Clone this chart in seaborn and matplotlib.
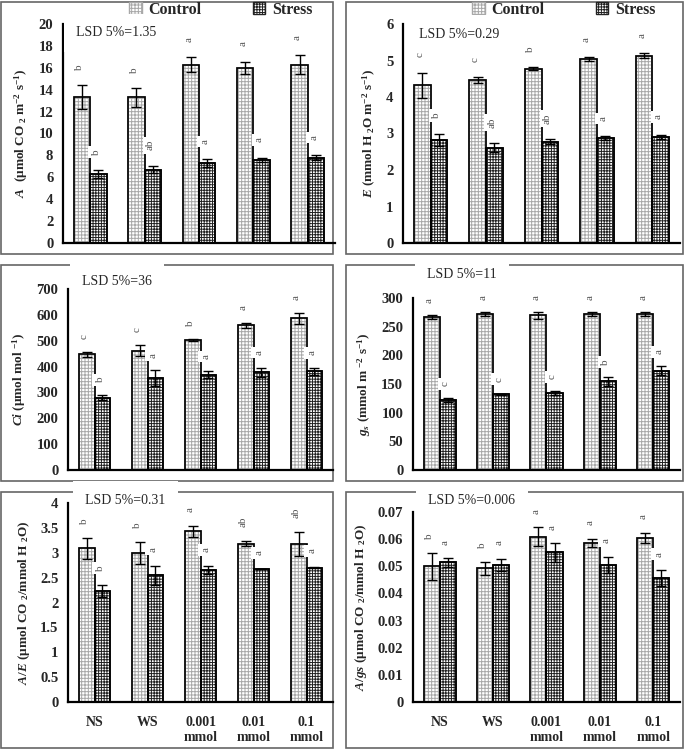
import matplotlib
matplotlib.use('Agg')
import numpy as np
import pandas as pd
import matplotlib.pyplot as plt
from matplotlib.patches import Patch, Rectangle
import seaborn as sns

# categories
treatments = ['NS', 'WS', '0.001\nmmol', '0.01\nmmol', '0.1\nmmol']
groups = ['Control', 'Stress']

# A (net photosynthesis)
a_ctrl = [13.3, 13.3, 16.3, 16.0, 16.3]
a_ctrl_err = [1.1, 0.85, 0.65, 0.55, 0.85]
a_str = [6.3, 6.7, 7.3, 7.6, 7.8]
a_str_err = [0.35, 0.35, 0.35, 0.2, 0.2]
a_ctrl_let = ['b', 'b', 'a', 'a', 'a']
a_str_let = ['b', 'ab', 'a', 'a', 'a']

# E (transpiration)
e_ctrl = [4.32, 4.46, 4.78, 5.04, 5.13]
e_ctrl_err = [0.35, 0.08, 0.03, 0.06, 0.07]
e_str = [2.83, 2.61, 2.77, 2.87, 2.91]
e_str_err = [0.17, 0.12, 0.07, 0.06, 0.06]
e_ctrl_let = ['c', 'c', 'b', 'a', 'a']
e_str_let = ['b', 'ab', 'ab', 'a', 'a']

# Ci
ci_ctrl = [447, 462, 503, 560, 587]
ci_ctrl_err = [10, 22, 3, 10, 22]
ci_str = [280, 355, 368, 378, 382]
ci_str_err = [10, 30, 13, 18, 13]
ci_ctrl_let = ['c', 'c', 'b', 'a', 'a']
ci_str_let = ['b', 'a', 'a', 'a', 'a']

# gs
gs_ctrl = [267, 272, 270, 272, 272]
gs_ctrl_err = [3, 4, 6, 3, 4]
gs_str = [122, 132, 134, 155, 173]
gs_str_err = [3, 1, 3, 8, 8]
gs_ctrl_let = ['a', 'a', 'a', 'a', 'a']
gs_str_let = ['c', 'c', 'c', 'b', 'a']

# A/E
ae_ctrl = [3.09, 2.99, 3.43, 3.18, 3.18]
ae_ctrl_err = [0.21, 0.22, 0.11, 0.05, 0.24]
ae_str = [2.24, 2.55, 2.65, 2.67, 2.70]
ae_str_err = [0.12, 0.19, 0.08, 0.0, 0.01]
ae_ctrl_let = ['b', 'b', 'a', 'ab', 'ab']
ae_str_let = ['b', 'a', 'a', 'a', 'a']

# A/gs
ag_ctrl = [0.0500, 0.0492, 0.0608, 0.0587, 0.0604]
ag_ctrl_err = [0.005, 0.0025, 0.0035, 0.0015, 0.002]
ag_str = [0.0514, 0.0505, 0.0551, 0.0505, 0.0457]
ag_str_err = [0.0015, 0.0023, 0.0035, 0.003, 0.003]
ag_ctrl_let = ['b', 'b', 'a', 'a', 'a']
ag_str_let = ['a', 'a', 'a', 'a', 'a']

sns.set_style('white')
plt.rcParams['font.family'] = ['Liberation Serif', 'DejaVu Serif']
plt.rcParams['font.weight'] = 'bold'
plt.rcParams['mathtext.fontset'] = 'custom'
plt.rcParams['mathtext.rm'] = 'Liberation Serif:bold'
plt.rcParams['mathtext.it'] = 'Liberation Serif:italic:bold'
plt.rcParams['mathtext.bf'] = 'Liberation Serif:bold'
plt.rcParams['hatch.linewidth'] = 0.7

W, H = 685, 749
fig = plt.figure(figsize=(W / 100, H / 100), dpi=100)

CTRL_HATCH, STR_HATCH = '+++++', '++++++'
CTRL_HC, STR_HC = '#a8a8a8', '#222222'
HAS_HC = hasattr(Patch(), 'set_hatchcolor')


def set_hatch(p, hatch, hc):
    p.set_facecolor('white')
    p.set_edgecolor('black')
    p.set_hatch(hatch)
    if HAS_HC:
        p.set_hatchcolor(hc)
    else:
        p.set_edgecolor(hc)


def px_axes(x0, y0, x1, y1):
    return fig.add_axes([x0 / W, 1 - y1 / H, (x1 - x0) / W, (y1 - y0) / H])


def draw_panel(ax, ctrl, ctrl_err, strs, strs_err, ctrl_let, strs_let,
               ymax, ystep, ylabel, lsd, lsd_xy, bottom_row):
    df = pd.DataFrame({'treatment': treatments * 2,
                       'group': ['Control'] * 5 + ['Stress'] * 5,
                       'value': ctrl + strs})
    sns.barplot(data=df, x='treatment', y='value', hue='group', order=treatments,
                hue_order=groups, width=0.6, errorbar=None, ax=ax, legend=False,
                edgecolor='black', linewidth=1.2, gap=0)
    styles = [(CTRL_HATCH, CTRL_HC), (STR_HATCH, STR_HC)]
    for cont, errs, lets, (hatch, hc) in zip(list(ax.containers), [ctrl_err, strs_err],
                                             [ctrl_let, strs_let], styles):
        xs = [p.get_x() + p.get_width() / 2 for p in cont]
        ys = [p.get_height() for p in cont]
        for p in cont:
            set_hatch(p, hatch, hc)
            if not HAS_HC:
                # black outline on top of the bar (hatch colour follows edge colour)
                ax.add_patch(Rectangle(p.get_xy(), p.get_width(), p.get_height(),
                                       fill=False, ec='black', lw=1.2, zorder=3))
        ax.errorbar(xs, ys, yerr=errs, fmt='none', ecolor='black',
                    elinewidth=1, capsize=3.5, capthick=1, zorder=5)
        for x, y, e, l in zip(xs, ys, errs, lets):
            ax.text(x - 0.04, y + e + 0.07 * ymax, l, rotation=90, ha='center',
                    va='bottom', fontsize=8, fontweight='normal', color='#555555',
                    bbox=dict(boxstyle='square,pad=0.3', fc='white', ec='none'),
                    zorder=6, clip_on=False)
    ax.set_xlim(-0.5, 4.5)
    ax.set_ylim(0, ymax)
    ticks = np.round(np.arange(0, ymax + ystep / 2, ystep), 4)
    ax.set_yticks(ticks)
    ax.set_yticklabels(['{:g}'.format(t) for t in ticks], fontsize=10.5, fontweight='bold')
    ax.set_xticks(range(5))
    if bottom_row:
        ax.set_xticklabels(treatments, fontsize=10, fontweight='bold')
    else:
        ax.set_xticklabels([])
    ax.set_xticks(np.arange(-0.5, 5, 1), minor=True)
    ax.tick_params(axis='x', which='major', length=0, pad=10)
    ax.tick_params(axis='x', which='minor', length=4, width=1.3, direction='out')
    ax.tick_params(axis='y', length=4, width=1.3, direction='out', pad=3)
    ax.set_xlabel('')
    ax.set_ylabel(ylabel, fontsize=9.5, fontweight='bold', labelpad=6)
    for s in ['top', 'right']:
        ax.spines[s].set_visible(False)
    for s in ['left', 'bottom']:
        ax.spines[s].set_linewidth(1.6)
        ax.spines[s].set_color('black')
    ax.patch.set_visible(False)
    ax.grid(False)
    # LSD label, given in figure pixels
    fig.text(lsd_xy[0] / W, 1 - lsd_xy[1] / H, lsd, fontsize=10, fontweight='normal',
             ha='left', va='center',
             bbox=dict(boxstyle='square,pad=0.9', fc='white', ec='none'))


# panel frames
for (x0, y0, x1, y1) in [(1, 2, 333, 254), (346, 2, 683, 254),
                         (1, 265, 333, 481), (346, 265, 683, 481),
                         (1, 492, 333, 748), (346, 492, 683, 748)]:
    fig.add_artist(Rectangle((x0 / W, 1 - y1 / H), (x1 - x0) / W, (y1 - y0) / H,
                             transform=fig.transFigure, fill=False, ec='#666666',
                             lw=1.2, zorder=-1))

ax1 = px_axes(63, 24, 335, 243)
draw_panel(ax1, a_ctrl, a_ctrl_err, a_str, a_str_err, a_ctrl_let, a_str_let,
           20, 2, r'$\mathit{A}$  (µmol CO$_{\ 2}$ m$^{-2}$ s$^{-1}$)', 'LSD 5%=1.35',
           (76, 33), False)

ax2 = px_axes(403, 24, 680, 243)
draw_panel(ax2, e_ctrl, e_ctrl_err, e_str, e_str_err, e_ctrl_let, e_str_let,
           6, 1, r'$\mathit{E}$ (mmol H$_{\ 2}$O m$^{-2}$ s$^{-1}$)', 'LSD 5%=0.29',
           (419, 34), False)

ax3 = px_axes(68, 289, 333, 470)
draw_panel(ax3, ci_ctrl, ci_ctrl_err, ci_str, ci_str_err, ci_ctrl_let, ci_str_let,
           700, 100, r'$\mathit{Ci}$ (µmol mol $^{-1}$)', 'LSD 5%=36',
           (82, 281), False)

ax4 = px_axes(413, 298, 680, 470)
draw_panel(ax4, gs_ctrl, gs_ctrl_err, gs_str, gs_str_err, gs_ctrl_let, gs_str_let,
           300, 50, r'$\mathit{g_s}$ (mmol m $^{-2}$ s$^{-1}$)', 'LSD 5%=11',
           (427, 275), False)

ax5 = px_axes(68, 503, 333, 702)
draw_panel(ax5, ae_ctrl, ae_ctrl_err, ae_str, ae_str_err, ae_ctrl_let, ae_str_let,
           4, 0.5, r'$\mathit{A/E}$ (µmol CO $_2$/mmol H $_2$O)', 'LSD 5%=0.31',
           (85, 500), True)

ax6 = px_axes(413, 512, 680, 702)
draw_panel(ax6, ag_ctrl, ag_ctrl_err, ag_str, ag_str_err, ag_ctrl_let, ag_str_let,
           0.07, 0.01, r'$\mathit{A/gs}$ (µmol CO $_2$/mmol H $_2$O)', 'LSD 5%=0.006',
           (428, 501), True)

# legends on the top row
for ax in [ax1, ax2]:
    hc = Patch(label='Control')
    hs = Patch(label='Stress')
    set_hatch(hc, CTRL_HATCH, CTRL_HC)
    set_hatch(hs, STR_HATCH, STR_HC)
    leg = ax.legend(handles=[hc, hs], ncol=2, loc='center', bbox_to_anchor=(0.58, 1.065),
                    frameon=False, handlelength=0.8, handleheight=0.8, handletextpad=0.4,
                    columnspacing=3.2, prop=dict(weight='bold', size=11.5))
    for lp, (hatch, col) in zip(leg.get_patches(), [(CTRL_HATCH, CTRL_HC), (STR_HATCH, STR_HC)]):
        set_hatch(lp, hatch, col)

fig.savefig('out.png', dpi=100)
